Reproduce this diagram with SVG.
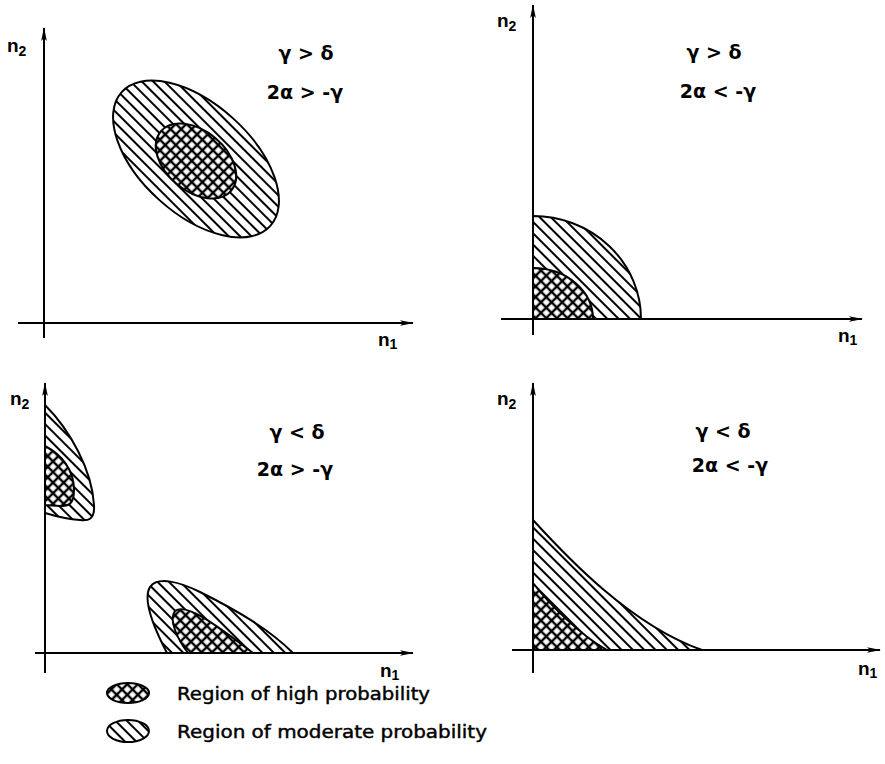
<svg xmlns="http://www.w3.org/2000/svg" width="885" height="764" viewBox="0 0 885 764">
<defs>
<pattern id="hatch" width="8" height="8" patternUnits="userSpaceOnUse" patternTransform="rotate(-45)">
<rect width="8" height="8" fill="#fff"/>
<line x1="4" y1="0" x2="4" y2="8" stroke="#000" stroke-width="2"/>
</pattern>
<pattern id="hatchR" width="8" height="8" patternUnits="userSpaceOnUse" patternTransform="rotate(-87)">
<rect width="8" height="8" fill="#fff"/>
<line x1="4" y1="0" x2="4" y2="8" stroke="#000" stroke-width="2"/>
</pattern>
<pattern id="cross" width="7.5" height="7.5" patternUnits="userSpaceOnUse" patternTransform="rotate(45)">
<rect width="7.5" height="7.5" fill="#fff"/>
<line x1="3.75" y1="0" x2="3.75" y2="7.5" stroke="#000" stroke-width="2.4"/>
<line x1="0" y1="3.75" x2="7.5" y2="3.75" stroke="#000" stroke-width="2.4"/>
</pattern>
<pattern id="crossR" width="7.5" height="7.5" patternUnits="userSpaceOnUse" patternTransform="rotate(5)">
<rect width="7.5" height="7.5" fill="#fff"/>
<line x1="3.75" y1="0" x2="3.75" y2="7.5" stroke="#000" stroke-width="2.4"/>
<line x1="0" y1="3.75" x2="7.5" y2="3.75" stroke="#000" stroke-width="2.4"/>
</pattern>
<marker id="arr" viewBox="0 0 14 8" refX="13" refY="4" markerWidth="14" markerHeight="8" markerUnits="userSpaceOnUse" orient="auto">
<path d="M0,1.2 L14,4 L0,6.8 L3,4 Z" fill="#000"/>
</marker>
</defs>
<style>
.ax{stroke:#000;stroke-width:2;fill:none}
.mod{fill:url(#hatch);stroke:#000;stroke-width:2}
.hi{fill:url(#cross);stroke:#000;stroke-width:2}
.cond{font-family:"DejaVu Sans","Liberation Sans",sans-serif;font-weight:bold;font-size:19px;text-anchor:middle;fill:#000}
.lab{font-family:"Liberation Sans",Arial,sans-serif;font-weight:bold;font-size:19px;fill:#000}
.sub{font-size:14px}
.leg{font-family:"DejaVu Sans","Liberation Sans",sans-serif;font-size:18px;fill:#000;stroke:#000;stroke-width:0.45}
</style>
<rect width="885" height="764" fill="#fff"/>

<g id="panel1">
<ellipse fill="url(#hatchR)" stroke="#000" stroke-width="2" cx="196" cy="159" rx="100" ry="55" transform="rotate(42 196 159)"/>
<ellipse fill="url(#crossR)" stroke="#000" stroke-width="2" cx="196" cy="161" rx="46" ry="30" transform="rotate(40 196 161)"/>
<text class="cond" x="306" y="60">γ &gt; δ</text>
<text class="cond" x="305" y="99">2α &gt; -γ</text>
<text class="lab" x="7" y="52">n<tspan class="sub" dy="4">2</tspan></text>
<text class="lab" x="378" y="346">n<tspan class="sub" dy="3">1</tspan></text>
</g>

<g id="panel2">
<path class="mod" d="M533,216 A108,103 0 0 1 641,319 L533,319 Z"/>
<path class="hi" d="M533,268 A60,51 0 0 1 593,319 L533,319 Z"/>
<text class="cond" x="714" y="59">γ &gt; δ</text>
<text class="cond" x="718" y="98">2α &lt; -γ</text>
<text class="lab" x="497" y="27">n<tspan class="sub" dy="4">2</tspan></text>
<text class="lab" x="838" y="342">n<tspan class="sub" dy="3">1</tspan></text>
</g>

<g id="panel3">
<path class="mod" d="M45,405 C70,430 92,470 94,505 C95,520 88,521 80,520 C65,519 55,516 45,513 Z"/>
<path class="hi" d="M45,446 C62,455 74,470 74,490 C74,505 68,506 60,506 L45,505 Z"/>
<path class="mod" d="M167,653 C155,630 142,600 150,587 C158,576 180,582 200,592 C240,612 270,630 293,653 Z"/>
<path class="hi" d="M188,653 C178,640 168,620 175,611 C185,603 210,620 253,653 Z"/>
<text class="cond" x="297" y="439">γ &lt; δ</text>
<text class="cond" x="295" y="476">2α &gt; -γ</text>
<text class="lab" x="10" y="405">n<tspan class="sub" dy="4">2</tspan></text>
<text class="lab" x="380" y="677">n<tspan class="sub" dy="3">1</tspan></text>
</g>

<g id="panel4">
<path class="mod" d="M533,520 C565,555 630,625 702,650 L533,650 Z"/>
<path class="hi" d="M533,583 C550,605 580,635 607,650 L533,650 Z"/>
<text class="cond" x="723" y="438">γ &lt; δ</text>
<text class="cond" x="730" y="472">2α &lt; -γ</text>
<text class="lab" x="497" y="405">n<tspan class="sub" dy="4">2</tspan></text>
<text class="lab" x="858" y="675">n<tspan class="sub" dy="3">1</tspan></text>
</g>

<g id="axes">
<line class="ax" x1="44" y1="338" x2="44" y2="28" marker-end="url(#arr)"/>
<line class="ax" x1="18" y1="323" x2="413" y2="323" marker-end="url(#arr)"/>
<line class="ax" x1="533" y1="335" x2="533" y2="5" marker-end="url(#arr)"/>
<line class="ax" x1="501" y1="319" x2="862" y2="319" marker-end="url(#arr)"/>
<line class="ax" x1="45" y1="673" x2="45" y2="383" marker-end="url(#arr)"/>
<line class="ax" x1="35" y1="653" x2="413" y2="653" marker-end="url(#arr)"/>
<line class="ax" x1="533" y1="673" x2="533" y2="383" marker-end="url(#arr)"/>
<line class="ax" x1="512" y1="650" x2="880" y2="650" marker-end="url(#arr)"/>
</g>

<g id="legend">
<ellipse class="hi" cx="128" cy="693" rx="21" ry="10"/>
<text class="leg" x="177" y="700" textLength="253" lengthAdjust="spacingAndGlyphs">Region of high probability</text>
<ellipse class="mod" cx="128" cy="731" rx="21" ry="11"/>
<text class="leg" x="177" y="738" textLength="310" lengthAdjust="spacingAndGlyphs">Region of moderate probability</text>
</g>
</svg>
